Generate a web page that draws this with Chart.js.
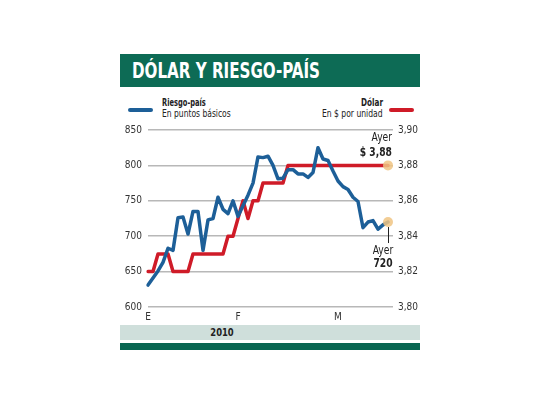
<!DOCTYPE html>
<html>
<head>
<meta charset="utf-8">
<script src="https://cdn.jsdelivr.net/npm/chart.js@4.4.1/dist/chart.umd.min.js"></script>
<style>
  body { margin: 0; background: #fff; font-family: 'Liberation Sans Narrow', 'DejaVu Sans Condensed', sans-serif; color: #222; }
  #wrap { position: relative; width: 540px; height: 405px; }
  #title { position: absolute; left: 120px; top: 54px; width: 300px; height: 33px; background: #0d6b55; overflow: hidden; }
  #title span { position: absolute; left: 12px; top: 0; line-height: 33px; color: #fff; font-weight: bold; font-size: 22px; transform-origin: 0 50%; white-space: nowrap; }
  .leg { position: absolute; font-size: 11px; line-height: 12px; white-space: nowrap; }
  .l { transform-origin: 0 50%; }
  .r { transform-origin: 100% 50%; }
  .b { font-weight: bold; }
  .swatch { position: absolute; height: 4px; width: 25px; border-radius: 2px; }
  #chartBox { position: absolute; left: 120px; top: 118px; width: 300px; height: 206px; }
  #band { position: absolute; left: 120px; top: 325px; width: 300px; height: 15px; background: #cfdfdb; }
  #band span { position: absolute; left: 82px; width: 40px; text-align: center; font-weight: bold; font-size: 11px; line-height: 15px; transform: scaleX(0.85); }
  #foot { position: absolute; left: 120px; top: 343px; width: 300px; height: 7px; background: #0a6652; }
</style>
</head>
<body>
<div id="wrap">
  <div id="title"><span id="titleText">DÓLAR Y RIESGO-PAÍS</span></div>

  <div class="swatch" style="left:128px; top:108px; background:#1d5f98"></div>
  <div class="leg b l" data-w="44" style="left:162px; top:97px">Riesgo-país</div>
  <div class="leg l" data-w="69" style="left:162px; top:108px">En puntos básicos</div>

  <div class="leg b r" data-w="22" style="right:157px; top:97px; text-align:right">Dólar</div>
  <div class="leg r" data-w="61" style="right:157px; top:108px; text-align:right">En $ por unidad</div>
  <div class="swatch" style="left:389px; top:108px; background:#cf1b28"></div>

  <div id="chartBox"><canvas id="chart"></canvas></div>
  <div id="band"><span>2010</span></div>
  <div id="foot"></div>
</div>

<script>
// días hábiles (dd/mm/2010); the last one only extends the axis
const dias = [
  '06/01','07/01','08/01','11/01','12/01','13/01','14/01','15/01','18/01','19/01',
  '20/01','21/01','22/01','25/01','26/01','27/01','28/01','29/01',
  '01/02','02/02','03/02','04/02','05/02','08/02','09/02','10/02','11/02','12/02',
  '15/02','16/02','17/02','18/02','19/02','22/02','23/02','24/02','25/02','26/02',
  '01/03','02/03','03/03','04/03','05/03','08/03','09/03','10/03','11/03','12/03','15/03',
  '16/03'
];
const mesLetra = { '01': 'E', '02': 'F', '03': 'M' };

// Riesgo-país, puntos básicos
const riesgoPais = [
  631, 641, 651, 663, 683, 680, 726, 727, 703, 735,
  735, 680, 723, 725, 755, 738, 732, 750, 728, 743,
  758, 775, 812, 811, 813, 800, 781, 782, 794, 794,
  788, 788, 783, 790, 825, 809, 807, 792, 778, 770,
  766, 755, 749, 712, 720, 722, 710, 716, 720, null
];

// Dólar, $ por unidad
const dolar = [
  3.82, 3.82, 3.83, 3.83, 3.83, 3.82, 3.82, 3.82, 3.82, 3.83,
  3.83, 3.83, 3.83, 3.83, 3.83, 3.83, 3.84, 3.84, 3.85, 3.86,
  3.85, 3.86, 3.86, 3.87, 3.87, 3.87, 3.87, 3.87, 3.88, 3.88,
  3.88, 3.88, 3.88, 3.88, 3.88, 3.88, 3.88, 3.88, 3.88, 3.88,
  3.88, 3.88, 3.88, 3.88, 3.88, 3.88, 3.88, 3.88, 3.88, null
];

const leftTicks = [600, 650, 700, 750, 800, 850];
const rightTicks = [3.80, 3.82, 3.84, 3.86, 3.88, 3.90];

const FONT = "'Liberation Sans Narrow', 'DejaVu Sans Condensed', sans-serif";
const BLUE = '#1d5f98';
const RED = '#cf1b28';

// squeeze the HTML texts to the condensed widths of the print version
const tt = document.getElementById('titleText');
tt.style.transform = 'scaleX(' + (188 / tt.offsetWidth) + ')';
document.querySelectorAll('.leg').forEach(el => {
  el.style.transform = 'scaleX(' + (+el.dataset.w / el.offsetWidth) + ')';
});

function lastIndex(arr) {
  for (let i = arr.length - 1; i >= 0; i--) if (arr[i] != null) return i;
  return -1;
}

// narrow text on canvas
function narrowText(ctx, txt, x, y, sx) {
  ctx.save();
  ctx.translate(x, y);
  ctx.scale(sx, 1);
  ctx.fillText(txt, 0, 0);
  ctx.restore();
}

const ayerPlugin = {
  id: 'ayer',
  afterDatasetsDraw(chart) {
    const ctx = chart.ctx;
    const iR = lastIndex(riesgoPais);
    const iD = lastIndex(dolar);
    const pR = chart.getDatasetMeta(0).data[iR];
    const pD = chart.getDatasetMeta(1).data[iD];

    ctx.save();
    [pD, pR].forEach(p => {
      ctx.beginPath();
      ctx.arc(p.x, p.y, 5, 0, Math.PI * 2);
      ctx.fillStyle = 'rgba(240, 196, 130, 0.85)';
      ctx.fill();
    });

    ctx.fillStyle = '#222';
    ctx.textBaseline = 'middle';

    // dólar
    ctx.textAlign = 'right';
    ctx.font = '12px ' + FONT;
    narrowText(ctx, 'Ayer', pD.x + 4, pD.y - 28, 0.85);
    ctx.font = 'bold 12px ' + FONT;
    narrowText(ctx, '$ ' + dolar[iD].toFixed(2).replace('.', ','), pD.x + 4, pD.y - 13, 0.85);

    // riesgo país
    ctx.strokeStyle = '#222';
    ctx.lineWidth = 1;
    ctx.beginPath();
    ctx.moveTo(pR.x + 0.5, pR.y + 5);
    ctx.lineTo(pR.x + 0.5, pR.y + 21);
    ctx.stroke();
    ctx.textAlign = 'center';
    ctx.font = '12px ' + FONT;
    narrowText(ctx, 'Ayer', pR.x - 5, pR.y + 29, 0.85);
    ctx.font = 'bold 12px ' + FONT;
    narrowText(ctx, String(riesgoPais[iR]), pR.x - 5, pR.y + 42, 0.85);
    ctx.restore();
  }
};

new Chart(document.getElementById('chart'), {
  type: 'line',
  data: {
    labels: dias,
    datasets: [
      {
        label: 'Riesgo-país',
        data: riesgoPais,
        yAxisID: 'y',
        borderColor: BLUE,
        borderWidth: 3.5,
        pointRadius: 0,
        tension: 0,
        borderJoinStyle: 'round',
        borderCapStyle: 'round'
      },
      {
        label: 'Dólar',
        data: dolar,
        yAxisID: 'y1',
        borderColor: RED,
        borderWidth: 3.5,
        pointRadius: 0,
        tension: 0,
        borderJoinStyle: 'round',
        borderCapStyle: 'round'
      }
    ]
  },
  options: {
    responsive: true,
    maintainAspectRatio: false,
    animation: false,
    layout: { padding: { top: 9 } },
    plugins: { legend: { display: false }, tooltip: { enabled: false } },
    scales: {
      x: {
        grid: { display: false, drawTicks: false },
        border: { display: false },
        afterFit: s => { s.height = 17; },
        ticks: {
          autoSkip: false,
          maxRotation: 0,
          padding: 4,
          color: '#333',
          font: { family: FONT, size: 10 },
          callback: function (value, index) {
            const d = this.getLabelForValue(value);
            const mm = d.slice(3);
            if (index === 0 || dias[index - 1].slice(3) !== mm) return mesLetra[mm];
            return '';
          }
        }
      },
      y: {
        position: 'left',
        min: leftTicks[0],
        max: leftTicks[leftTicks.length - 1],
        afterFit: s => { s.width = 28; },
        afterBuildTicks: s => { s.ticks = leftTicks.map(v => ({ value: v })); },
        grid: { color: '#b8b8b8', lineWidth: 1.5, drawTicks: false },
        border: { display: false },
        ticks: { padding: 6, color: '#333', font: { family: FONT, size: 10 } }
      },
      y1: {
        position: 'right',
        min: rightTicks[0],
        max: rightTicks[rightTicks.length - 1],
        afterFit: s => { s.width = 27; },
        afterBuildTicks: s => { s.ticks = rightTicks.map(v => ({ value: v })); },
        grid: { display: false, drawTicks: false },
        border: { display: false },
        ticks: {
          padding: 5,
          color: '#333',
          font: { family: FONT, size: 10 },
          callback: v => v.toFixed(2).replace('.', ',')
        }
      }
    }
  },
  plugins: [ayerPlugin]
});
</script>
</body>
</html>
